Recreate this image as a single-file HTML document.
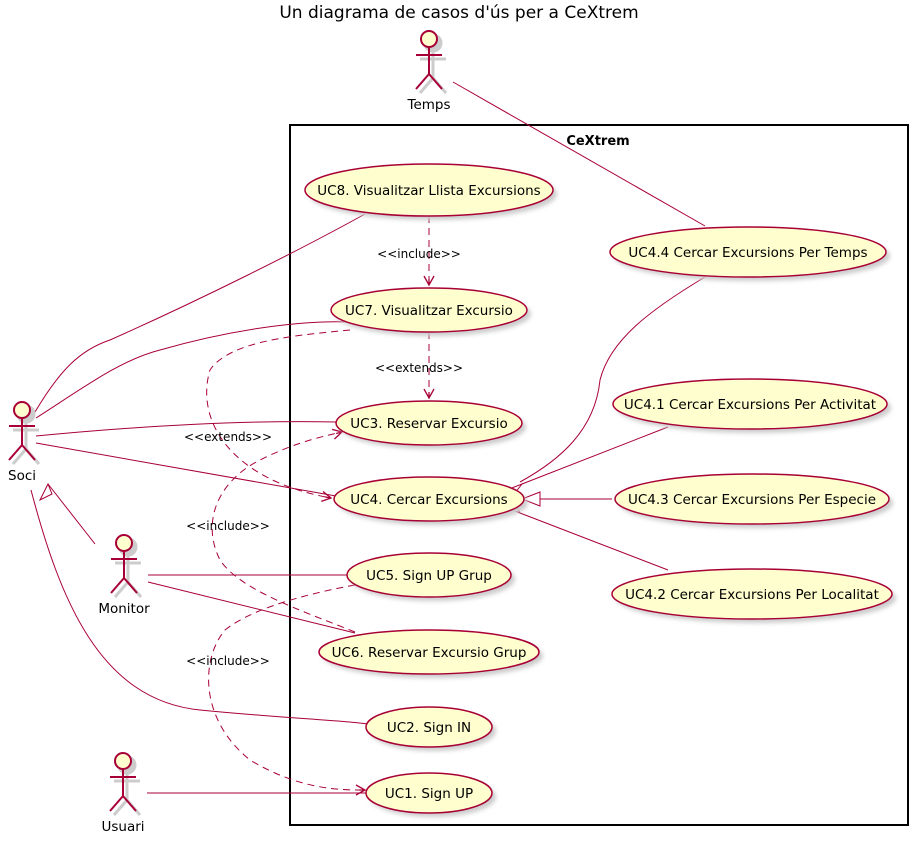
<!DOCTYPE html>
<html><head><meta charset="utf-8"><style>body{margin:0;background:#fff}svg{display:block}text{font-family:"DejaVu Sans","Liberation Sans",sans-serif}</style></head><body>
<svg width="917" height="843" viewBox="0 0 917 843">
<defs>
<filter id="sh" x="-20%" y="-20%" width="150%" height="150%"><feGaussianBlur stdDeviation="2"/></filter>
<marker id="ar" markerWidth="12" markerHeight="12" refX="10" refY="6" orient="auto" markerUnits="userSpaceOnUse"><path d="M1,1 L10,6 L1,11 M10,6 L4,6" fill="none" stroke="#A80036" stroke-width="1.3"/></marker>
</defs>
<text x="459" y="18" font-size="17" text-anchor="middle">Un diagrama de casos d'ús per a CeXtrem</text>
<rect x="290" y="125" width="618" height="700" fill="none" stroke="#000" stroke-width="2"/>
<text x="598" y="145" font-size="13" font-weight="bold" text-anchor="middle">CeXtrem</text>

<g fill="none" stroke="#A80036" stroke-width="1">
<path d="M453,82 L705,226"/>
<path d="M35,412 C60,370 80,350 110,340 C200,300 300,250 365,214"/>
<path d="M36,418 C80,390 120,360 160,350 C230,330 300,320 350,322"/>
<path d="M36,436 C150,425 250,420 337,422"/>
<path d="M36,443 L336,496"/>
<path d="M31,490 C60,600 100,700 200,710 C280,718 340,720 368,724"/>
<path d="M148,575 L348,575"/>
<path d="M148,582 L355,633"/>
<path d="M147,793 L366,793"/>
<path d="M95,544 L48,484"/>
<path d="M668,427 L522,484"/>
<path d="M612,499 L540,499"/>
<path d="M668,570 L520,513"/>
<path d="M705,277 C650,310 610,340 600,380 C595,430 560,460 520,482"/>
</g>
<g fill="#fff" stroke="#A80036" stroke-width="1">
<polygon points="48,484 40,500 52,494"/>
<polygon points="504,491 522,484 510,499"/>
<polygon points="522,499 540,492 540,506"/>
<polygon points="505,507 520,513 512,499"/>
</g>
<g fill="none" stroke="#A80036" stroke-width="1" stroke-dasharray="7,5">
<path d="M429,216 L429,285" marker-end="url(#ar)"/>
<path d="M429,332 L429,398" marker-end="url(#ar)"/>
<path d="M350,330 C300,335 230,340 210,370 C195,420 230,480 331,498" marker-end="url(#ar)"/>
<path d="M355,632 C300,610 240,590 220,560 C200,520 220,480 260,460 C300,440 330,435 342,432" marker-end="url(#ar)"/>
<path d="M355,585 C300,595 250,610 225,630 C200,660 200,720 250,760 C300,790 340,790 365,790" marker-end="url(#ar)"/>
</g>
<g font-size="12" fill="#000" text-anchor="middle">
<text x="419" y="258">&lt;&lt;include&gt;&gt;</text>
<text x="419" y="372">&lt;&lt;extends&gt;&gt;</text>
<text x="228" y="441">&lt;&lt;extends&gt;&gt;</text>
<text x="228" y="530">&lt;&lt;include&gt;&gt;</text>
<text x="228" y="665">&lt;&lt;include&gt;&gt;</text>
</g>
<g font-size="13.5" text-anchor="middle">
<g><ellipse cx="433" cy="194" rx="124" ry="26" fill="#ccc" filter="url(#sh)"/><ellipse cx="429" cy="190" rx="124" ry="26" fill="#FEFECE" stroke="#A80036" stroke-width="1.5"/><text x="429" y="195">UC8. Visualitzar Llista Excursions</text></g>
<g><ellipse cx="433" cy="314" rx="98" ry="22" fill="#ccc" filter="url(#sh)"/><ellipse cx="429" cy="310" rx="98" ry="22" fill="#FEFECE" stroke="#A80036" stroke-width="1.5"/><text x="429" y="315">UC7. Visualitzar Excursio</text></g>
<g><ellipse cx="433" cy="427" rx="93" ry="22" fill="#ccc" filter="url(#sh)"/><ellipse cx="429" cy="423" rx="93" ry="22" fill="#FEFECE" stroke="#A80036" stroke-width="1.5"/><text x="429" y="428">UC3. Reservar Excursio</text></g>
<g><ellipse cx="433" cy="503" rx="95" ry="22" fill="#ccc" filter="url(#sh)"/><ellipse cx="429" cy="499" rx="95" ry="22" fill="#FEFECE" stroke="#A80036" stroke-width="1.5"/><text x="429" y="504">UC4. Cercar Excursions</text></g>
<g><ellipse cx="433" cy="579" rx="82" ry="22" fill="#ccc" filter="url(#sh)"/><ellipse cx="429" cy="575" rx="82" ry="22" fill="#FEFECE" stroke="#A80036" stroke-width="1.5"/><text x="429" y="580">UC5. Sign UP Grup</text></g>
<g><ellipse cx="433" cy="656" rx="110" ry="22" fill="#ccc" filter="url(#sh)"/><ellipse cx="429" cy="652" rx="110" ry="22" fill="#FEFECE" stroke="#A80036" stroke-width="1.5"/><text x="429" y="657">UC6. Reservar Excursio Grup</text></g>
<g><ellipse cx="433" cy="731" rx="63" ry="20" fill="#ccc" filter="url(#sh)"/><ellipse cx="429" cy="727" rx="63" ry="20" fill="#FEFECE" stroke="#A80036" stroke-width="1.5"/><text x="429" y="732">UC2. Sign IN</text></g>
<g><ellipse cx="433" cy="797" rx="63" ry="20" fill="#ccc" filter="url(#sh)"/><ellipse cx="429" cy="793" rx="63" ry="20" fill="#FEFECE" stroke="#A80036" stroke-width="1.5"/><text x="429" y="798">UC1. Sign UP</text></g>
<g><ellipse cx="752" cy="256" rx="138" ry="25" fill="#ccc" filter="url(#sh)"/><ellipse cx="748" cy="252" rx="138" ry="25" fill="#FEFECE" stroke="#A80036" stroke-width="1.5"/><text x="748" y="257">UC4.4 Cercar Excursions Per Temps</text></g>
<g><ellipse cx="754" cy="408" rx="137" ry="25" fill="#ccc" filter="url(#sh)"/><ellipse cx="750" cy="404" rx="137" ry="25" fill="#FEFECE" stroke="#A80036" stroke-width="1.5"/><text x="750" y="409">UC4.1 Cercar Excursions Per Activitat</text></g>
<g><ellipse cx="756" cy="503" rx="137" ry="25" fill="#ccc" filter="url(#sh)"/><ellipse cx="752" cy="499" rx="137" ry="25" fill="#FEFECE" stroke="#A80036" stroke-width="1.5"/><text x="752" y="504">UC4.3 Cercar Excursions Per Especie</text></g>
<g><ellipse cx="756" cy="598" rx="140" ry="25" fill="#ccc" filter="url(#sh)"/><ellipse cx="752" cy="594" rx="140" ry="25" fill="#FEFECE" stroke="#A80036" stroke-width="1.5"/><text x="752" y="599">UC4.2 Cercar Excursions Per Localitat</text></g>
</g>
<g font-size="13.5" text-anchor="middle">
<g transform="translate(429,31)"><g stroke="#ccc" stroke-width="3" fill="#ccc" transform="translate(4,4)"><circle cx="0" cy="8" r="8"/><path d="M0,16V43M-13,24H13M0,43L-13,58M0,43L13,58" fill="none"/></g><g stroke="#A80036" stroke-width="2" fill="#FEFECE"><circle cx="0" cy="8" r="8"/><path d="M0,16V43M-13,24H13M0,43L-13,58M0,43L13,58" fill="none"/></g><text x="0" y="78" fill="#000">Temps</text></g>
<g transform="translate(22,402)"><g stroke="#ccc" stroke-width="3" fill="#ccc" transform="translate(4,4)"><circle cx="0" cy="8" r="8"/><path d="M0,16V43M-13,24H13M0,43L-13,58M0,43L13,58" fill="none"/></g><g stroke="#A80036" stroke-width="2" fill="#FEFECE"><circle cx="0" cy="8" r="8"/><path d="M0,16V43M-13,24H13M0,43L-13,58M0,43L13,58" fill="none"/></g><text x="0" y="78" fill="#000">Soci</text></g>
<g transform="translate(124,535)"><g stroke="#ccc" stroke-width="3" fill="#ccc" transform="translate(4,4)"><circle cx="0" cy="8" r="8"/><path d="M0,16V43M-13,24H13M0,43L-13,58M0,43L13,58" fill="none"/></g><g stroke="#A80036" stroke-width="2" fill="#FEFECE"><circle cx="0" cy="8" r="8"/><path d="M0,16V43M-13,24H13M0,43L-13,58M0,43L13,58" fill="none"/></g><text x="0" y="78" fill="#000">Monitor</text></g>
<g transform="translate(123,753)"><g stroke="#ccc" stroke-width="3" fill="#ccc" transform="translate(4,4)"><circle cx="0" cy="8" r="8"/><path d="M0,16V43M-13,24H13M0,43L-13,58M0,43L13,58" fill="none"/></g><g stroke="#A80036" stroke-width="2" fill="#FEFECE"><circle cx="0" cy="8" r="8"/><path d="M0,16V43M-13,24H13M0,43L-13,58M0,43L13,58" fill="none"/></g><text x="0" y="78" fill="#000">Usuari</text></g>
</g>
</svg>
</body></html>
